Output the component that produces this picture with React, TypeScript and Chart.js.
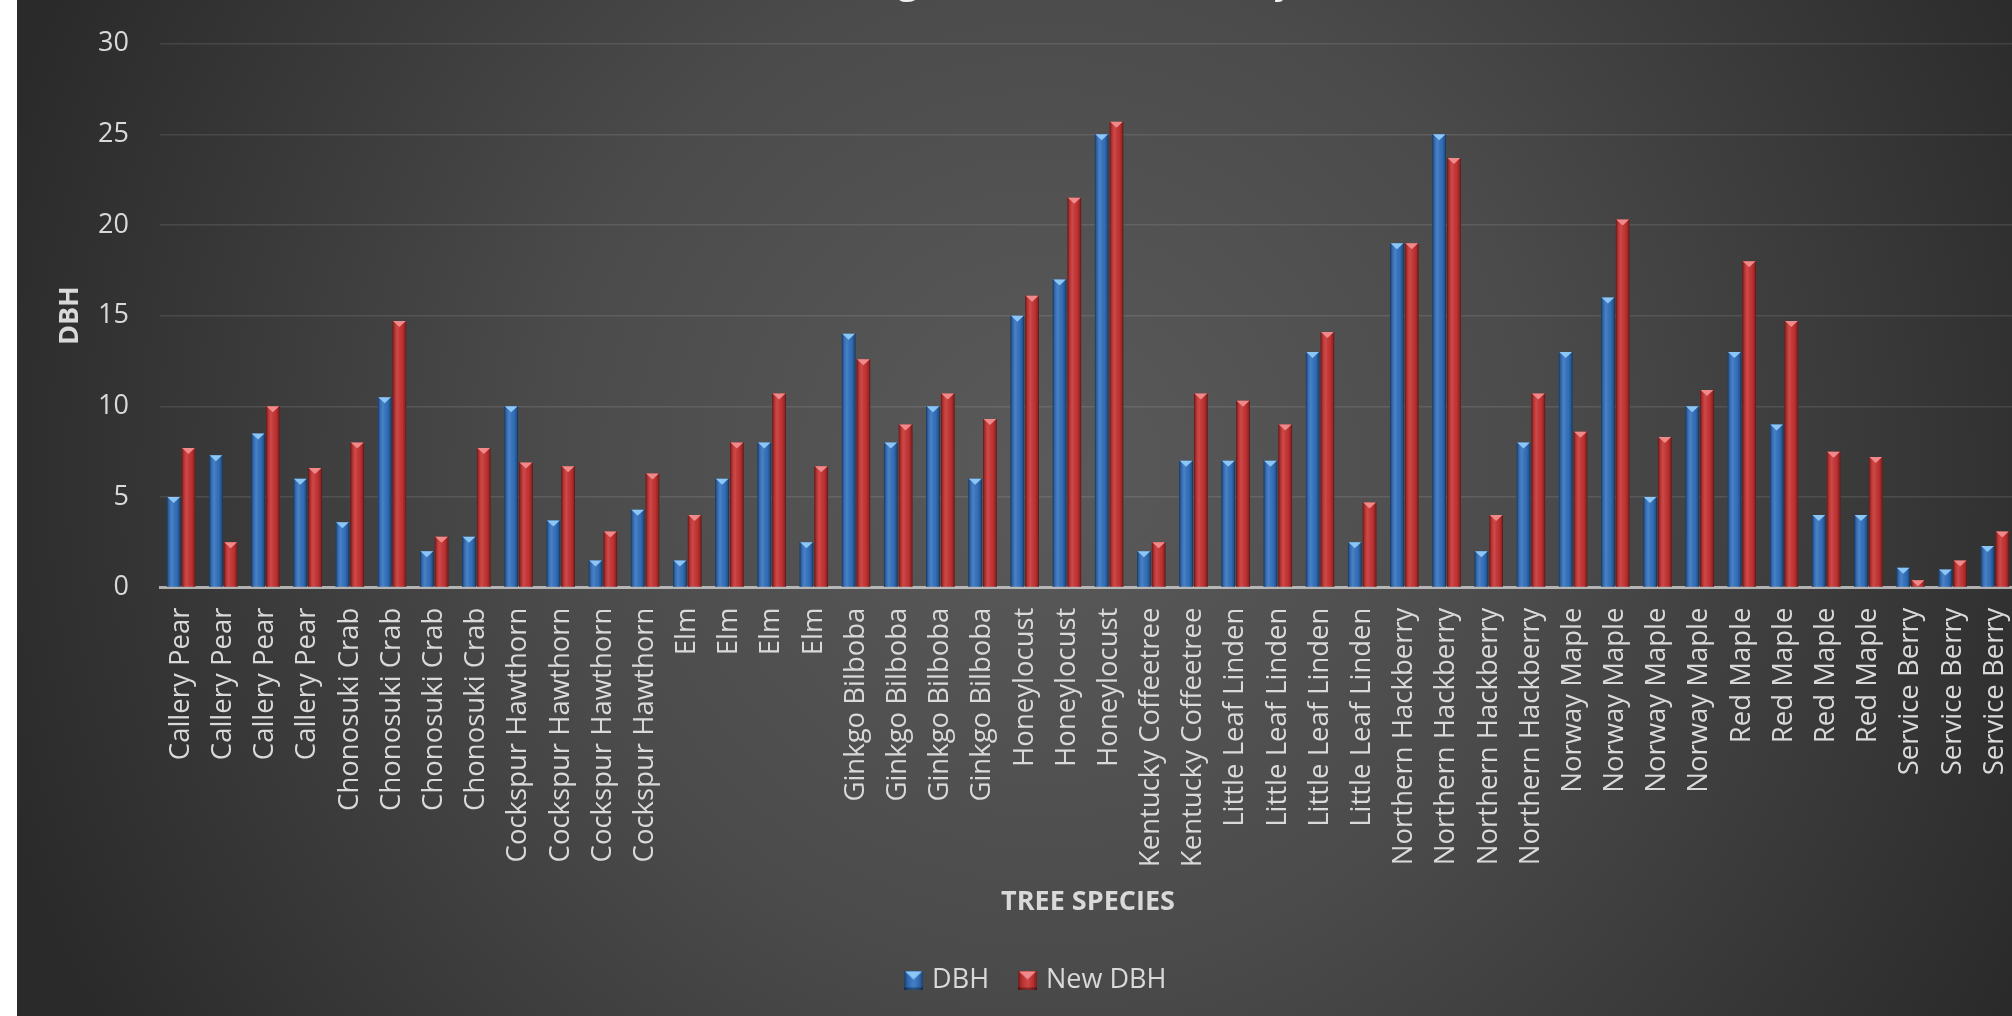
import React, { useEffect, useRef } from "react";
import { Chart, registerables } from "chart.js";

Chart.register(...registerables);

// Tree species, one entry per measured tree
const speciesLabels: string[] = [
  "Callery Pear", "Callery Pear", "Callery Pear", "Callery Pear",
  "Chonosuki Crab", "Chonosuki Crab", "Chonosuki Crab", "Chonosuki Crab",
  "Cockspur Hawthorn", "Cockspur Hawthorn", "Cockspur Hawthorn", "Cockspur Hawthorn",
  "Elm", "Elm", "Elm", "Elm",
  "Ginkgo Bilboba", "Ginkgo Bilboba", "Ginkgo Bilboba", "Ginkgo Bilboba",
  "Honeylocust", "Honeylocust", "Honeylocust",
  "Kentucky Coffeetree", "Kentucky Coffeetree",
  "Little Leaf Linden", "Little Leaf Linden", "Little Leaf Linden", "Little Leaf Linden",
  "Northern Hackberry", "Northern Hackberry", "Northern Hackberry", "Northern Hackberry",
  "Norway Maple", "Norway Maple", "Norway Maple", "Norway Maple",
  "Red Maple", "Red Maple", "Red Maple", "Red Maple",
  "Service Berry", "Service Berry", "Service Berry",
];

// Diameter at breast height, first measurement
const dbhValues: number[] = [
  5, 7.3, 8.5, 6,
  3.6, 10.5, 2, 2.8,
  10, 3.7, 1.5, 4.3,
  1.5, 6, 8, 2.5,
  14, 8, 10, 6,
  15, 17, 25,
  2, 7,
  7, 7, 13, 2.5,
  19, 25, 2, 8,
  13, 16, 5, 10,
  13, 9, 4, 4,
  1.1, 1, 2.3,
];

// Diameter at breast height, new measurement
const newDbhValues: number[] = [
  7.7, 2.5, 10, 6.6,
  8, 14.7, 2.8, 7.7,
  6.9, 6.7, 3.1, 6.3,
  4, 8, 10.7, 6.7,
  12.6, 9, 10.7, 9.3,
  16.1, 21.5, 25.7,
  2.5, 10.7,
  10.3, 9, 14.1, 4.7,
  19, 23.7, 4, 10.7,
  8.6, 20.3, 8.3, 10.9,
  18, 14.7, 7.5, 7.2,
  0.4, 1.5, 3.1,
];

const seriesNames: string[] = ["DBH", "New DBH"];
const yAxisMin = 0;
const yAxisMax = 30;
const yAxisStep = 5;

const chartTitle = "Overall Average Growth in DBH by Tree";
const xAxisTitle = "TREE SPECIES";
const yAxisTitle = "DBH";

const FONT = "'Open Sans', 'DejaVu Sans', sans-serif";
const TEXT_COLOR = "#d9d9d9";

const BLUE = "#3473c0";
const BLUE_CAP = "#8cc6f7";
const RED = "#c93434";
const RED_CAP = "#f08a8a";

// Small bevelled square used as the legend marker
function makeMarker(base: string, cap: string): HTMLCanvasElement {
  const s = 19;
  const c = document.createElement("canvas");
  c.width = s;
  c.height = s;
  const g = c.getContext("2d")!;
  g.fillStyle = base;
  g.fillRect(0, 0, s, s);
  const grad = g.createLinearGradient(0, 0, s, 0);
  grad.addColorStop(0, "rgba(0,0,0,0.45)");
  grad.addColorStop(0.2, "rgba(0,0,0,0.1)");
  grad.addColorStop(0.5, "rgba(255,255,255,0.08)");
  grad.addColorStop(0.8, "rgba(0,0,0,0.1)");
  grad.addColorStop(1, "rgba(0,0,0,0.45)");
  g.fillStyle = grad;
  g.fillRect(0, 0, s, s);
  g.beginPath();
  g.moveTo(1, 1);
  g.lineTo(s - 1, 1);
  g.lineTo(s / 2, 9);
  g.closePath();
  g.fillStyle = cap;
  g.fill();
  g.fillStyle = "rgba(0,0,0,0.35)";
  g.fillRect(0, s - 2, s, 2);
  return c;
}

// Gives each bar a rounded-column shading and a pointed light cap
const bevelPlugin = {
  id: "bevelBars",
  afterDatasetsDraw(chart: any) {
    const ctx: CanvasRenderingContext2D = chart.ctx;
    ctx.save();
    chart.data.datasets.forEach((ds: any, di: number) => {
      const meta = chart.getDatasetMeta(di);
      if (meta.hidden) return;
      meta.data.forEach((bar: any) => {
        const { x, y, base, width } = bar.getProps(["x", "y", "base", "width"], true);
        const left = x - width / 2;
        const h = base - y;
        if (h <= 0) return;
        const g = ctx.createLinearGradient(left, 0, left + width, 0);
        g.addColorStop(0, "rgba(0,0,0,0.55)");
        g.addColorStop(0.12, "rgba(0,0,0,0.18)");
        g.addColorStop(0.38, "rgba(255,255,255,0.10)");
        g.addColorStop(0.7, "rgba(0,0,0,0.04)");
        g.addColorStop(0.9, "rgba(0,0,0,0.28)");
        g.addColorStop(1, "rgba(0,0,0,0.6)");
        ctx.fillStyle = g;
        ctx.fillRect(left, y, width, h);
        const capH = Math.min(6, h);
        ctx.beginPath();
        ctx.moveTo(left + 0.5, y);
        ctx.lineTo(left + width - 0.5, y);
        ctx.lineTo(x, y + capH);
        ctx.closePath();
        ctx.fillStyle = ds.capColor;
        ctx.fill();
      });
    });
    ctx.restore();
  },
};

// The legend is centred on the whole chart box, which runs past the plot's right edge
const legendShiftPlugin = {
  id: "legendShift",
  afterLayout(chart: any) {
    const lg = chart.legend;
    if (!lg) return;
    lg.left += 21;
    lg.right += 21;
  },
};

export default function App() {
  const canvasRef = useRef<HTMLCanvasElement | null>(null);

  useEffect(() => {
    if (!canvasRef.current) return;
    const markers = [makeMarker(BLUE, BLUE_CAP), makeMarker(RED, RED_CAP)];

    const chart = new Chart(canvasRef.current, {
      type: "bar",
      data: {
        labels: speciesLabels,
        datasets: [
          {
            label: seriesNames[0],
            data: dbhValues,
            backgroundColor: BLUE,
            capColor: BLUE_CAP,
            categoryPercentage: 0.7,
            barPercentage: 0.93,
          } as any,
          {
            label: seriesNames[1],
            data: newDbhValues,
            backgroundColor: RED,
            capColor: RED_CAP,
            categoryPercentage: 0.7,
            barPercentage: 0.93,
          } as any,
        ],
      },
      options: {
        responsive: false,
        animation: false,
        devicePixelRatio: 1,
        layout: { padding: { left: 0, right: 37, top: 0, bottom: 12.5 } },
        plugins: {
          title: {
            display: true,
            text: chartTitle,
            color: "#f2f2f2",
            font: { family: FONT, size: 41, weight: "normal", lineHeight: 1.2 },
            padding: { top: 35.9, bottom: 38.6 },
          },
          legend: {
            display: true,
            position: "bottom",
            labels: {
              color: TEXT_COLOR,
              font: { family: FONT, size: 27 },
              usePointStyle: true,
              pointStyleWidth: 10,
              boxWidth: 19,
              boxHeight: 19,
              padding: 33.5,
              generateLabels: (c: any) => {
                const items = (Chart.defaults.plugins.legend.labels as any).generateLabels(c);
                items.forEach((it: any, i: number) => {
                  it.pointStyle = markers[i];
                });
                return items;
              },
            },
          },
          tooltip: { enabled: false },
        },
        scales: {
          x: {
            grid: { display: false, drawTicks: false },
            border: { display: true, color: "rgba(205,205,205,0.8)", width: 3 },
            ticks: {
              color: TEXT_COLOR,
              font: { family: FONT, size: 27.5 },
              autoSkip: false,
              minRotation: 90,
              maxRotation: 90,
              padding: 20,
            },
            title: {
              display: true,
              text: xAxisTitle,
              color: TEXT_COLOR,
              font: { family: FONT, size: 27, weight: "bold", lineHeight: 1.2 },
              padding: { top: 10, bottom: 14.8 },
            },
            afterFit: (scale: any) => {
              scale.height = 345.4;
            },
          },
          y: {
            min: yAxisMin,
            max: yAxisMax,
            grid: { color: "rgba(255,255,255,0.1)", lineWidth: 1.5, drawTicks: false },
            border: { display: false },
            ticks: {
              stepSize: yAxisStep,
              color: TEXT_COLOR,
              font: { family: FONT, size: 27 },
              padding: 31,
            },
            title: {
              display: true,
              text: yAxisTitle,
              color: TEXT_COLOR,
              font: { family: FONT, size: 27, weight: "bold", lineHeight: 1.2 },
              padding: { top: 36.8, bottom: 10 },
            },
            afterFit: (scale: any) => {
              scale.width = 143;
            },
          },
        },
      } as any,
      plugins: [bevelPlugin, legendShiftPlugin],
    });

    return () => chart.destroy();
  }, []);

  return (
    <div
      style={{
        position: "fixed",
        left: 0,
        top: 0,
        width: 2012,
        height: 1016,
        overflow: "hidden",
        background: "#ffffff",
      }}
    >
      <div
        style={{
          position: "absolute",
          left: 17,
          top: -80,
          width: 2036,
          height: 1096,
          background:
            "radial-gradient(circle 1100px at 1030px 550px, #5a5a5a 0%, #4b4b4b 45%, #2a2a2a 100%)",
        }}
      >
        <canvas ref={canvasRef} width={2036} height={1096} style={{ display: "block" }} />
      </div>
    </div>
  );
}
